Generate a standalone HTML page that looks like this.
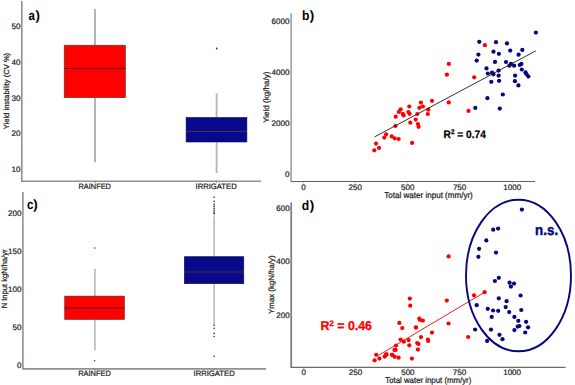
<!DOCTYPE html>
<html><head><meta charset="utf-8"><style>
html,body{margin:0;padding:0;background:#fff;}
body{width:575px;height:385px;overflow:hidden;}
svg{display:block;font-family:"Liberation Sans",sans-serif;text-rendering:geometricPrecision;}
</style></head><body>
<svg width="575" height="385" viewBox="0 0 575 385">
<rect width="575" height="385" fill="#fff"/>
<line x1="21.8" y1="1" x2="21.8" y2="181.5" stroke="#909090" stroke-width="1.6"/>
<line x1="21" y1="181.2" x2="261" y2="181.2" stroke="#909090" stroke-width="1.6"/>
<line x1="20.599999999999998" y1="26.0" x2="22.0" y2="26.0" stroke="#999" stroke-width="0.8"/>
<text x="20.4" y="28.9" font-size="8.0" text-anchor="end" fill="#1a1a1a" stroke="#1a1a1a" stroke-width="0.22">50</text>
<line x1="20.599999999999998" y1="61.79999999999999" x2="22.0" y2="61.79999999999999" stroke="#999" stroke-width="0.8"/>
<text x="20.4" y="64.69999999999999" font-size="8.0" text-anchor="end" fill="#1a1a1a" stroke="#1a1a1a" stroke-width="0.22">40</text>
<line x1="20.599999999999998" y1="97.6" x2="22.0" y2="97.6" stroke="#999" stroke-width="0.8"/>
<text x="20.4" y="100.5" font-size="8.0" text-anchor="end" fill="#1a1a1a" stroke="#1a1a1a" stroke-width="0.22">30</text>
<line x1="20.599999999999998" y1="133.39999999999998" x2="22.0" y2="133.39999999999998" stroke="#999" stroke-width="0.8"/>
<text x="20.4" y="136.29999999999998" font-size="8.0" text-anchor="end" fill="#1a1a1a" stroke="#1a1a1a" stroke-width="0.22">20</text>
<line x1="20.599999999999998" y1="169.2" x2="22.0" y2="169.2" stroke="#999" stroke-width="0.8"/>
<text x="20.4" y="172.1" font-size="8.0" text-anchor="end" fill="#1a1a1a" stroke="#1a1a1a" stroke-width="0.22">10</text>
<text x="28.45" y="19.5" font-size="13.4" font-weight="bold" fill="#000" textLength="6.4" lengthAdjust="spacingAndGlyphs">a</text>
<text x="35.449999999999996" y="19.5" font-size="13.4" font-weight="bold" fill="#000">)</text>
<text x="0" y="0" font-size="7.5" text-anchor="middle" fill="#1a1a1a" font-weight="normal" stroke="#1a1a1a" stroke-width="0.22" textLength="76.4" lengthAdjust="spacingAndGlyphs" transform="translate(9.1,91.05) rotate(-90)">Yield instability (CV %)</text>
<line x1="95" y1="9" x2="95" y2="45.2" stroke="#b4b4b4" stroke-width="2"/>
<line x1="95" y1="97.7" x2="95" y2="162.3" stroke="#b4b4b4" stroke-width="2"/>
<rect x="64.2" y="45.2" width="61.2" height="52.5" fill="#ff0000" stroke="#5a3030" stroke-width="0.6"/>
<line x1="64.2" y1="68.4" x2="125.4" y2="68.4" stroke="#4a1010" stroke-width="0.9"/>
<line x1="216.6" y1="93.3" x2="216.6" y2="117.5" stroke="#b4b4b4" stroke-width="1.8"/>
<line x1="216.6" y1="142.4" x2="216.6" y2="173" stroke="#b4b4b4" stroke-width="1.8"/>
<rect x="186.1" y="117.5" width="60.80000000000001" height="24.5" fill="#07088c" stroke="#101040" stroke-width="0.6"/>
<line x1="186.1" y1="131.4" x2="246.9" y2="131.4" stroke="#45424a" stroke-width="0.9"/>
<circle cx="216.7" cy="48.5" r="0.9" fill="#333"/>
<line x1="95" y1="181.5" x2="95" y2="182.8" stroke="#666" stroke-width="0.9"/>
<line x1="216.6" y1="181.5" x2="216.6" y2="182.8" stroke="#666" stroke-width="0.9"/>
<text x="78.4" y="188.65" font-size="7.8" text-anchor="start" fill="#1a1a1a" font-weight="normal" stroke="#1a1a1a" stroke-width="0.22" textLength="32.6" lengthAdjust="spacingAndGlyphs">RAINFED</text>
<text x="195.5" y="188.7" font-size="7.8" text-anchor="start" fill="#1a1a1a" font-weight="normal" stroke="#1a1a1a" stroke-width="0.22" textLength="41.2" lengthAdjust="spacingAndGlyphs">IRRIGATED</text>
<line x1="291.1" y1="13.2" x2="291.1" y2="181.8" stroke="#a4a4a4" stroke-width="1.7"/>
<line x1="290.8" y1="181.5" x2="535" y2="181.5" stroke="#626262" stroke-width="1.2"/>
<line x1="289.59999999999997" y1="20.900000000000002" x2="291.0" y2="20.900000000000002" stroke="#999" stroke-width="0.8"/>
<text x="289.4" y="23.8" font-size="8.0" text-anchor="end" fill="#1a1a1a" stroke="#1a1a1a" stroke-width="0.22">6000</text>
<line x1="289.59999999999997" y1="71.92999999999999" x2="291.0" y2="71.92999999999999" stroke="#999" stroke-width="0.8"/>
<text x="289.4" y="74.83" font-size="8.0" text-anchor="end" fill="#1a1a1a" stroke="#1a1a1a" stroke-width="0.22">4000</text>
<line x1="289.59999999999997" y1="122.96" x2="291.0" y2="122.96" stroke="#999" stroke-width="0.8"/>
<text x="289.4" y="125.86" font-size="8.0" text-anchor="end" fill="#1a1a1a" stroke="#1a1a1a" stroke-width="0.22">2000</text>
<line x1="289.59999999999997" y1="173.99" x2="291.0" y2="173.99" stroke="#999" stroke-width="0.8"/>
<text x="289.4" y="176.89000000000001" font-size="8.0" text-anchor="end" fill="#1a1a1a" stroke="#1a1a1a" stroke-width="0.22">0</text>
<line x1="303.5" y1="182.0" x2="303.5" y2="183.2" stroke="#999" stroke-width="0.8"/>
<text x="303.5" y="189.6" font-size="8.0" text-anchor="middle" fill="#1a1a1a" stroke="#1a1a1a" stroke-width="0.22">0</text>
<line x1="355.3" y1="182.0" x2="355.3" y2="183.2" stroke="#999" stroke-width="0.8"/>
<text x="355.3" y="189.6" font-size="8.0" text-anchor="middle" fill="#1a1a1a" stroke="#1a1a1a" stroke-width="0.22">250</text>
<line x1="407.7" y1="182.0" x2="407.7" y2="183.2" stroke="#999" stroke-width="0.8"/>
<text x="407.7" y="189.6" font-size="8.0" text-anchor="middle" fill="#1a1a1a" stroke="#1a1a1a" stroke-width="0.22">500</text>
<line x1="459.6" y1="182.0" x2="459.6" y2="183.2" stroke="#999" stroke-width="0.8"/>
<text x="459.6" y="189.6" font-size="8.0" text-anchor="middle" fill="#1a1a1a" stroke="#1a1a1a" stroke-width="0.22">750</text>
<line x1="512.2" y1="182.0" x2="512.2" y2="183.2" stroke="#999" stroke-width="0.8"/>
<text x="512.2" y="189.6" font-size="8.0" text-anchor="middle" fill="#1a1a1a" stroke="#1a1a1a" stroke-width="0.22">1000</text>
<text x="384.3" y="197.9" font-size="8.6" text-anchor="start" fill="#1a1a1a" font-weight="normal" stroke="#1a1a1a" stroke-width="0.22" textLength="88.5" lengthAdjust="spacingAndGlyphs">Total water input (mm/yr)</text>
<text x="302.05" y="20.25" font-size="13.4" font-weight="bold" fill="#000" textLength="7.4" lengthAdjust="spacingAndGlyphs">b</text>
<text x="309.65" y="20.25" font-size="13.4" font-weight="bold" fill="#000">)</text>
<text x="0" y="0" font-size="8.0" text-anchor="middle" fill="#1a1a1a" font-weight="normal" stroke="#1a1a1a" stroke-width="0.22" textLength="51.3" lengthAdjust="spacingAndGlyphs" transform="translate(268.9,97.2) rotate(-90)">Yield (kg/ha/y)</text>
<circle cx="376" cy="143.6" r="2.12" fill="#ff0000"/>
<circle cx="379" cy="147.9" r="2.12" fill="#ff0000"/>
<circle cx="374.3" cy="150.3" r="2.12" fill="#ff0000"/>
<circle cx="386.1" cy="134.3" r="2.12" fill="#ff0000"/>
<circle cx="384.3" cy="137.6" r="2.12" fill="#ff0000"/>
<circle cx="391.7" cy="136.4" r="2.12" fill="#ff0000"/>
<circle cx="394.7" cy="138.3" r="2.12" fill="#ff0000"/>
<circle cx="398.6" cy="139" r="2.12" fill="#ff0000"/>
<circle cx="412.1" cy="142.9" r="2.12" fill="#ff0000"/>
<circle cx="395.4" cy="126" r="2.12" fill="#ff0000"/>
<circle cx="395.7" cy="116.7" r="2.12" fill="#ff0000"/>
<circle cx="400.7" cy="109.3" r="2.12" fill="#ff0000"/>
<circle cx="398.9" cy="111.9" r="2.12" fill="#ff0000"/>
<circle cx="402.9" cy="113.9" r="2.12" fill="#ff0000"/>
<circle cx="403.6" cy="115.4" r="2.12" fill="#ff0000"/>
<circle cx="409.3" cy="106.5" r="2.12" fill="#ff0000"/>
<circle cx="408.4" cy="112" r="2.12" fill="#ff0000"/>
<circle cx="409.6" cy="113.8" r="2.12" fill="#ff0000"/>
<circle cx="410.3" cy="122.7" r="2.12" fill="#ff0000"/>
<circle cx="415.7" cy="119.6" r="2.12" fill="#ff0000"/>
<circle cx="417.3" cy="114" r="2.12" fill="#ff0000"/>
<circle cx="417.9" cy="124" r="2.12" fill="#ff0000"/>
<circle cx="418.6" cy="126.8" r="2.12" fill="#ff0000"/>
<circle cx="419.4" cy="107.8" r="2.12" fill="#ff0000"/>
<circle cx="420.9" cy="102.6" r="2.12" fill="#ff0000"/>
<circle cx="422.9" cy="106.5" r="2.12" fill="#ff0000"/>
<circle cx="428.3" cy="109.7" r="2.12" fill="#ff0000"/>
<circle cx="427.8" cy="114" r="2.12" fill="#ff0000"/>
<circle cx="432" cy="100.8" r="2.12" fill="#ff0000"/>
<circle cx="448.8" cy="102.4" r="2.12" fill="#ff0000"/>
<circle cx="448.8" cy="63.9" r="2.12" fill="#ff0000"/>
<circle cx="446.9" cy="74.7" r="2.12" fill="#ff0000"/>
<circle cx="474.2" cy="77.3" r="2.12" fill="#ff0000"/>
<circle cx="468.5" cy="110.9" r="2.12" fill="#ff0000"/>
<circle cx="484.9" cy="45.2" r="2.12" fill="#ff0000"/>
<circle cx="479.3" cy="41.8" r="2.12" fill="#05077f"/>
<circle cx="478.4" cy="54.6" r="2.12" fill="#05077f"/>
<circle cx="476.7" cy="60.6" r="2.12" fill="#05077f"/>
<circle cx="496" cy="42.2" r="2.12" fill="#05077f"/>
<circle cx="507" cy="43.4" r="2.12" fill="#05077f"/>
<circle cx="493.5" cy="51.7" r="2.12" fill="#05077f"/>
<circle cx="498.9" cy="53.8" r="2.12" fill="#05077f"/>
<circle cx="510.2" cy="50.6" r="2.12" fill="#05077f"/>
<circle cx="522.3" cy="49.9" r="2.12" fill="#05077f"/>
<circle cx="518.6" cy="54.7" r="2.12" fill="#05077f"/>
<circle cx="535.9" cy="32.6" r="2.12" fill="#05077f"/>
<circle cx="495" cy="61.9" r="2.12" fill="#05077f"/>
<circle cx="506" cy="62" r="2.12" fill="#05077f"/>
<circle cx="511" cy="63.8" r="2.12" fill="#05077f"/>
<circle cx="509.4" cy="65.7" r="2.12" fill="#05077f"/>
<circle cx="514.1" cy="65.7" r="2.12" fill="#05077f"/>
<circle cx="519.7" cy="65" r="2.12" fill="#05077f"/>
<circle cx="521.4" cy="63.9" r="2.12" fill="#05077f"/>
<circle cx="486.5" cy="68.4" r="2.12" fill="#05077f"/>
<circle cx="521.8" cy="69.5" r="2.12" fill="#05077f"/>
<circle cx="487.8" cy="73.5" r="2.12" fill="#05077f"/>
<circle cx="492" cy="72.7" r="2.12" fill="#05077f"/>
<circle cx="493.4" cy="74.3" r="2.12" fill="#05077f"/>
<circle cx="498.6" cy="70.6" r="2.12" fill="#05077f"/>
<circle cx="498.6" cy="75.6" r="2.12" fill="#05077f"/>
<circle cx="525.5" cy="72.4" r="2.12" fill="#05077f"/>
<circle cx="526.6" cy="74.3" r="2.12" fill="#05077f"/>
<circle cx="528.4" cy="76.5" r="2.12" fill="#05077f"/>
<circle cx="515.1" cy="75.6" r="2.12" fill="#05077f"/>
<circle cx="491.3" cy="81.8" r="2.12" fill="#05077f"/>
<circle cx="499.1" cy="80.8" r="2.12" fill="#05077f"/>
<circle cx="514.9" cy="81.2" r="2.12" fill="#05077f"/>
<circle cx="518.4" cy="85.4" r="2.12" fill="#05077f"/>
<circle cx="502.8" cy="94.5" r="2.12" fill="#05077f"/>
<circle cx="487.4" cy="98.2" r="2.12" fill="#05077f"/>
<circle cx="499.8" cy="108.6" r="2.12" fill="#05077f"/>
<circle cx="475.3" cy="107.9" r="2.12" fill="#05077f"/>
<line x1="374.5" y1="136.9" x2="535.9" y2="50.8" stroke="#1a1a1a" stroke-width="0.9"/>
<text x="443.6" y="137.9" font-size="10.8" font-weight="bold" fill="#000" stroke="#000" stroke-width="0.25" textLength="42.2" lengthAdjust="spacingAndGlyphs">R<tspan font-size="6.8" dy="-3.8">2</tspan><tspan dy="3.8"> = 0.74</tspan></text>
<line x1="22.9" y1="192" x2="22.9" y2="369.3" stroke="#909090" stroke-width="1.6"/>
<line x1="22.2" y1="368.9" x2="266" y2="368.9" stroke="#909090" stroke-width="1.6"/>
<line x1="21.599999999999998" y1="212.9" x2="23.0" y2="212.9" stroke="#999" stroke-width="0.8"/>
<text x="21.4" y="215.8" font-size="8.0" text-anchor="end" fill="#1a1a1a" stroke="#1a1a1a" stroke-width="0.22">200</text>
<line x1="21.599999999999998" y1="250.9" x2="23.0" y2="250.9" stroke="#999" stroke-width="0.8"/>
<text x="21.4" y="253.8" font-size="8.0" text-anchor="end" fill="#1a1a1a" stroke="#1a1a1a" stroke-width="0.22">150</text>
<line x1="21.599999999999998" y1="288.90000000000003" x2="23.0" y2="288.90000000000003" stroke="#999" stroke-width="0.8"/>
<text x="21.4" y="291.8" font-size="8.0" text-anchor="end" fill="#1a1a1a" stroke="#1a1a1a" stroke-width="0.22">100</text>
<line x1="21.599999999999998" y1="326.90000000000003" x2="23.0" y2="326.90000000000003" stroke="#999" stroke-width="0.8"/>
<text x="21.4" y="329.8" font-size="8.0" text-anchor="end" fill="#1a1a1a" stroke="#1a1a1a" stroke-width="0.22">50</text>
<line x1="21.599999999999998" y1="364.90000000000003" x2="23.0" y2="364.90000000000003" stroke="#999" stroke-width="0.8"/>
<text x="21.4" y="367.8" font-size="8.0" text-anchor="end" fill="#1a1a1a" stroke="#1a1a1a" stroke-width="0.22">0</text>
<text x="27.05" y="208.6" font-size="13.4" font-weight="bold" fill="#000" textLength="6.500000000000002" lengthAdjust="spacingAndGlyphs">c</text>
<text x="33.25" y="208.6" font-size="13.4" font-weight="bold" fill="#000">)</text>
<text x="0" y="0" font-size="7.7" text-anchor="middle" fill="#1a1a1a" font-weight="normal" stroke="#1a1a1a" stroke-width="0.22" textLength="58.8" lengthAdjust="spacingAndGlyphs" transform="translate(6.6,278.9) rotate(-90)">N Input kgN/ha/yr</text>
<line x1="94.9" y1="268.8" x2="94.9" y2="296.1" stroke="#b4b4b4" stroke-width="1.5"/>
<line x1="94.9" y1="319.5" x2="94.9" y2="350.5" stroke="#b4b4b4" stroke-width="1.5"/>
<rect x="64.7" y="296.1" width="59.8" height="23.399999999999977" fill="#ff0000" stroke="#5a3030" stroke-width="0.6"/>
<line x1="64.7" y1="308.2" x2="124.5" y2="308.2" stroke="#4a1010" stroke-width="0.9"/>
<circle cx="94.8" cy="248" r="0.8" fill="#444"/>
<circle cx="94.6" cy="360.8" r="0.8" fill="#444"/>
<line x1="214.1" y1="216.5" x2="214.1" y2="256.7" stroke="#b4b4b4" stroke-width="1.5"/>
<line x1="214.1" y1="283.7" x2="214.1" y2="324.8" stroke="#b4b4b4" stroke-width="1.5"/>
<rect x="184.3" y="256.7" width="59.5" height="27.0" fill="#07088c" stroke="#101040" stroke-width="0.6"/>
<line x1="184.3" y1="272.0" x2="243.8" y2="272.0" stroke="#262650" stroke-width="0.9"/>
<line x1="184.6" y1="272.0" x2="243.5" y2="272.0" stroke="#262650" stroke-width="1.5"/>
<line x1="214.1" y1="203" x2="214.1" y2="216.5" stroke="#c8c8c8" stroke-width="1.0"/>
<circle cx="214.1" cy="197.2" r="0.8" fill="#333"/>
<circle cx="214.1" cy="201.4" r="0.8" fill="#333"/>
<circle cx="214.1" cy="204.3" r="0.8" fill="#333"/>
<circle cx="214.1" cy="206.4" r="0.8" fill="#333"/>
<circle cx="214.1" cy="208.5" r="0.8" fill="#333"/>
<circle cx="214.1" cy="210.5" r="0.8" fill="#333"/>
<circle cx="214.1" cy="212.4" r="0.8" fill="#333"/>
<circle cx="214.1" cy="213.6" r="0.8" fill="#333"/>
<circle cx="214.1" cy="325.3" r="0.8" fill="#333"/>
<circle cx="214.1" cy="328.4" r="0.8" fill="#333"/>
<circle cx="214.1" cy="333.4" r="0.8" fill="#333"/>
<circle cx="214.1" cy="336.5" r="0.8" fill="#333"/>
<circle cx="214.1" cy="356.3" r="0.8" fill="#333"/>
<line x1="94.9" y1="369.2" x2="94.9" y2="370.5" stroke="#666" stroke-width="0.9"/>
<line x1="214.1" y1="369.2" x2="214.1" y2="370.5" stroke="#666" stroke-width="0.9"/>
<text x="78.2" y="375.9" font-size="7.8" text-anchor="start" fill="#1a1a1a" font-weight="normal" stroke="#1a1a1a" stroke-width="0.22" textLength="32.6" lengthAdjust="spacingAndGlyphs">RAINFED</text>
<text x="193.5" y="376.0" font-size="7.8" text-anchor="start" fill="#1a1a1a" font-weight="normal" stroke="#1a1a1a" stroke-width="0.22" textLength="41.2" lengthAdjust="spacingAndGlyphs">IRRIGATED</text>
<line x1="291.2" y1="202.4" x2="291.2" y2="367.9" stroke="#808080" stroke-width="1.8"/>
<line x1="290.8" y1="367.4" x2="565.6" y2="367.4" stroke="#6a6a6a" stroke-width="1.3"/>
<line x1="289.9" y1="207.79999999999998" x2="291.3" y2="207.79999999999998" stroke="#999" stroke-width="0.8"/>
<text x="289.7" y="210.7" font-size="8.0" text-anchor="end" fill="#1a1a1a" stroke="#1a1a1a" stroke-width="0.22">600</text>
<line x1="289.9" y1="261.40000000000003" x2="291.3" y2="261.40000000000003" stroke="#999" stroke-width="0.8"/>
<text x="289.7" y="264.3" font-size="8.0" text-anchor="end" fill="#1a1a1a" stroke="#1a1a1a" stroke-width="0.22">400</text>
<line x1="289.9" y1="315.0" x2="291.3" y2="315.0" stroke="#999" stroke-width="0.8"/>
<text x="289.7" y="317.9" font-size="8.0" text-anchor="end" fill="#1a1a1a" stroke="#1a1a1a" stroke-width="0.22">200</text>
<line x1="303.7" y1="367.79999999999995" x2="303.7" y2="369.0" stroke="#999" stroke-width="0.8"/>
<text x="303.7" y="375.4" font-size="8.0" text-anchor="middle" fill="#1a1a1a" stroke="#1a1a1a" stroke-width="0.22">0</text>
<line x1="355.5" y1="367.79999999999995" x2="355.5" y2="369.0" stroke="#999" stroke-width="0.8"/>
<text x="355.5" y="375.4" font-size="8.0" text-anchor="middle" fill="#1a1a1a" stroke="#1a1a1a" stroke-width="0.22">250</text>
<line x1="407.9" y1="367.79999999999995" x2="407.9" y2="369.0" stroke="#999" stroke-width="0.8"/>
<text x="407.9" y="375.4" font-size="8.0" text-anchor="middle" fill="#1a1a1a" stroke="#1a1a1a" stroke-width="0.22">500</text>
<line x1="459.5" y1="367.79999999999995" x2="459.5" y2="369.0" stroke="#999" stroke-width="0.8"/>
<text x="459.5" y="375.4" font-size="8.0" text-anchor="middle" fill="#1a1a1a" stroke="#1a1a1a" stroke-width="0.22">750</text>
<line x1="512.1" y1="367.79999999999995" x2="512.1" y2="369.0" stroke="#999" stroke-width="0.8"/>
<text x="512.1" y="375.4" font-size="8.0" text-anchor="middle" fill="#1a1a1a" stroke="#1a1a1a" stroke-width="0.22">1000</text>
<text x="385.3" y="383.2" font-size="8.4" text-anchor="start" fill="#1a1a1a" font-weight="normal" stroke="#1a1a1a" stroke-width="0.22" textLength="86" lengthAdjust="spacingAndGlyphs">Total water input (mm/yr)</text>
<text x="301.85" y="209.7" font-size="13.4" font-weight="bold" fill="#000" textLength="7.4" lengthAdjust="spacingAndGlyphs">d</text>
<text x="309.65" y="209.7" font-size="13.4" font-weight="bold" fill="#000">)</text>
<text x="0" y="0" font-size="7.8" text-anchor="middle" fill="#1a1a1a" font-weight="normal" stroke="#1a1a1a" stroke-width="0.22" textLength="58.5" lengthAdjust="spacingAndGlyphs" transform="translate(273.9,284.65) rotate(-90)">Ymax (kgN/ha/y)</text>
<circle cx="376.2" cy="354.8" r="2.12" fill="#ff0000"/>
<circle cx="379.4" cy="358.6" r="2.12" fill="#ff0000"/>
<circle cx="374.6" cy="360.3" r="2.12" fill="#ff0000"/>
<circle cx="384.7" cy="356.6" r="2.12" fill="#ff0000"/>
<circle cx="386.6" cy="354.4" r="2.12" fill="#ff0000"/>
<circle cx="392.1" cy="354.8" r="2.12" fill="#ff0000"/>
<circle cx="394.5" cy="349.9" r="2.12" fill="#ff0000"/>
<circle cx="399.3" cy="322.9" r="2.12" fill="#ff0000"/>
<circle cx="402.3" cy="328.1" r="2.12" fill="#ff0000"/>
<circle cx="415.9" cy="327.5" r="2.12" fill="#ff0000"/>
<circle cx="420" cy="320" r="2.12" fill="#ff0000"/>
<circle cx="422.9" cy="320.6" r="2.12" fill="#ff0000"/>
<circle cx="432" cy="332.6" r="2.12" fill="#ff0000"/>
<circle cx="421" cy="337.1" r="2.12" fill="#ff0000"/>
<circle cx="427.9" cy="339.7" r="2.12" fill="#ff0000"/>
<circle cx="428.2" cy="341" r="2.12" fill="#ff0000"/>
<circle cx="400.6" cy="339.5" r="2.12" fill="#ff0000"/>
<circle cx="403.8" cy="341.7" r="2.12" fill="#ff0000"/>
<circle cx="408.6" cy="340.1" r="2.12" fill="#ff0000"/>
<circle cx="409.3" cy="345.3" r="2.12" fill="#ff0000"/>
<circle cx="417.2" cy="343.1" r="2.12" fill="#ff0000"/>
<circle cx="418.5" cy="344" r="2.12" fill="#ff0000"/>
<circle cx="417.9" cy="349.6" r="2.12" fill="#ff0000"/>
<circle cx="396" cy="345.6" r="2.12" fill="#ff0000"/>
<circle cx="395.6" cy="349.9" r="2.12" fill="#ff0000"/>
<circle cx="386" cy="354.4" r="2.12" fill="#ff0000"/>
<circle cx="392.1" cy="354.8" r="2.12" fill="#ff0000"/>
<circle cx="394.7" cy="356.8" r="2.12" fill="#ff0000"/>
<circle cx="398.6" cy="357.7" r="2.12" fill="#ff0000"/>
<circle cx="411.9" cy="358.6" r="2.12" fill="#ff0000"/>
<circle cx="409.8" cy="298.6" r="2.12" fill="#ff0000"/>
<circle cx="410.2" cy="305.7" r="2.12" fill="#ff0000"/>
<circle cx="419.3" cy="318.7" r="2.12" fill="#ff0000"/>
<circle cx="416" cy="327.4" r="2.12" fill="#ff0000"/>
<circle cx="446.8" cy="300.6" r="2.12" fill="#ff0000"/>
<circle cx="448.5" cy="323.5" r="2.12" fill="#ff0000"/>
<circle cx="448.6" cy="256.4" r="2.12" fill="#ff0000"/>
<circle cx="484.6" cy="292.2" r="2.12" fill="#ff0000"/>
<circle cx="474" cy="295.3" r="2.12" fill="#ff0000"/>
<circle cx="468.2" cy="337" r="2.12" fill="#ff0000"/>
<circle cx="521.9" cy="209.6" r="2.12" fill="#05077f"/>
<circle cx="493.2" cy="229.7" r="2.12" fill="#05077f"/>
<circle cx="498.1" cy="228.6" r="2.12" fill="#05077f"/>
<circle cx="486.3" cy="240.4" r="2.12" fill="#05077f"/>
<circle cx="479.1" cy="248.8" r="2.12" fill="#05077f"/>
<circle cx="478.4" cy="256.8" r="2.12" fill="#05077f"/>
<circle cx="496" cy="252.6" r="2.12" fill="#05077f"/>
<circle cx="498.8" cy="277.8" r="2.12" fill="#05077f"/>
<circle cx="494.9" cy="281" r="2.12" fill="#05077f"/>
<circle cx="509.6" cy="282.7" r="2.12" fill="#05077f"/>
<circle cx="514" cy="283.6" r="2.12" fill="#05077f"/>
<circle cx="510.9" cy="286.6" r="2.12" fill="#05077f"/>
<circle cx="520.6" cy="295.5" r="2.12" fill="#05077f"/>
<circle cx="498.8" cy="298.3" r="2.12" fill="#05077f"/>
<circle cx="506.6" cy="301.2" r="2.12" fill="#05077f"/>
<circle cx="505.7" cy="307.1" r="2.12" fill="#05077f"/>
<circle cx="487.8" cy="308.8" r="2.12" fill="#05077f"/>
<circle cx="493.1" cy="310.5" r="2.12" fill="#05077f"/>
<circle cx="498.2" cy="310.8" r="2.12" fill="#05077f"/>
<circle cx="509.2" cy="312.1" r="2.12" fill="#05077f"/>
<circle cx="521.3" cy="310" r="2.12" fill="#05077f"/>
<circle cx="491.7" cy="316.9" r="2.12" fill="#05077f"/>
<circle cx="514.4" cy="316.9" r="2.12" fill="#05077f"/>
<circle cx="518.3" cy="320.8" r="2.12" fill="#05077f"/>
<circle cx="526.1" cy="321.8" r="2.12" fill="#05077f"/>
<circle cx="517.7" cy="326.6" r="2.12" fill="#05077f"/>
<circle cx="519.4" cy="326" r="2.12" fill="#05077f"/>
<circle cx="528.1" cy="327.3" r="2.12" fill="#05077f"/>
<circle cx="514.4" cy="330.1" r="2.12" fill="#05077f"/>
<circle cx="525.2" cy="332.5" r="2.12" fill="#05077f"/>
<circle cx="491" cy="329.6" r="2.12" fill="#05077f"/>
<circle cx="499.5" cy="334.8" r="2.12" fill="#05077f"/>
<circle cx="502.5" cy="339.2" r="2.12" fill="#05077f"/>
<circle cx="487.1" cy="340.9" r="2.12" fill="#05077f"/>
<circle cx="476.7" cy="305.2" r="2.12" fill="#05077f"/>
<circle cx="475.1" cy="329.5" r="2.12" fill="#05077f"/>
<line x1="377.9" y1="355.7" x2="484.7" y2="292.2" stroke="#ff0000" stroke-width="0.9"/>
<text x="320.6" y="330" font-size="12.8" font-weight="bold" fill="#ff0000" stroke="#ff0000" stroke-width="0.3" textLength="51.4" lengthAdjust="spacingAndGlyphs">R<tspan font-size="8" dy="-4.4">2</tspan><tspan dy="4.4"> = 0.46</tspan></text>
<ellipse cx="518.5" cy="275.5" rx="52.5" ry="75.8" fill="none" stroke="#05077f" stroke-width="1.9"/>
<text x="535.1" y="235.4" font-size="14.8" font-weight="bold" fill="#05077f" stroke="#05077f" stroke-width="0.45" textLength="23.0" lengthAdjust="spacingAndGlyphs">n.s.</text>
</svg>
</body></html>
